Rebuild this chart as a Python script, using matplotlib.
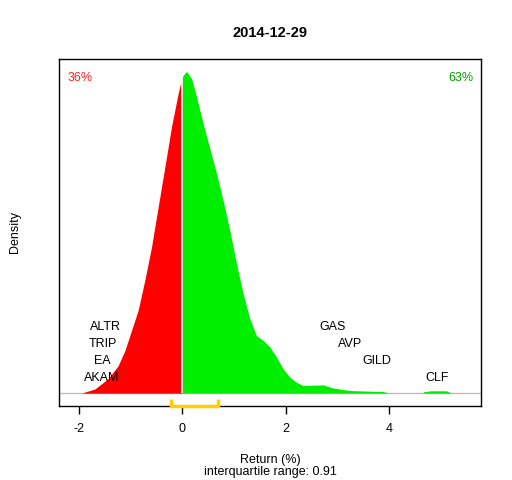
import numpy as np
import matplotlib.pyplot as plt

plt.rcParams['font.family'] = ['Liberation Sans', 'DejaVu Sans']

# density of daily returns
ret_x = [-1.944, -1.687, -1.43, -1.237, -1.108, -0.979, -0.851, -0.722, -0.593,
         -0.465, -0.336, -0.207, -0.079, -0.01,
         0.018, 0.083, 0.18, 0.276, 0.405, 0.533, 0.662, 0.79, 0.919, 1.048, 1.176,
         1.305, 1.434, 1.562, 1.691, 1.82, 1.948, 2.077, 2.206, 2.33, 2.46, 2.72,
         2.91, 3.24, 3.88, 4.00, 4.65, 4.66, 4.80, 5.10, 5.20]
dens = [0.0, 0.008, 0.028, 0.053, 0.082, 0.121, 0.160, 0.218, 0.282,
        0.359, 0.436, 0.514, 0.578, 0.608,
        0.613, 0.621, 0.607, 0.572, 0.520, 0.472, 0.424, 0.372, 0.314, 0.250, 0.192,
        0.144, 0.111, 0.102, 0.089, 0.070, 0.047, 0.031, 0.021, 0.015, 0.015, 0.016,
        0.010, 0.005, 0.003, 0.0, 0.0, 0.0025, 0.0045, 0.0045, 0.0]

iqr_lo, iqr_hi = -0.21, 0.70
pct_down, pct_up = '36%', '63%'

losers = ['ALTR', 'TRIP', 'EA', 'AKAM']
losers_x = [-1.49, -1.53, -1.55, -1.56]
winners = ['GAS', 'AVP', 'GILD', 'CLF']
winners_x = [2.91, 3.25, 3.76, 4.92]
label_y = [0.127, 0.094, 0.062, 0.030]

x = np.array(ret_x)
d = np.array(dens)
d0 = np.interp(0.0, x, d)

fig = plt.figure(figsize=(5.12, 4.8), dpi=100)
ax = fig.add_axes([0.1152, 0.1542, 0.8252, 0.7229])

ax.axhline(0, color='#BEBEBE', lw=1, zorder=1)
neg = x < 0
ax.fill_between(np.append(x[neg], 0), np.append(d[neg], d0), color='#FF0000', lw=0, zorder=2)
pos = x >= 0
ax.fill_between(np.insert(x[pos], 0, 0), np.insert(d[pos], 0, d0), color='#00EE00', lw=0, zorder=2)
ax.vlines(0, 0, d0, color='white', lw=1.2, zorder=3)

for name, lx, ly in zip(losers, losers_x, label_y):
    ax.text(lx, ly, name, ha='center', va='center', fontsize=9, zorder=4)
for name, lx, ly in zip(winners, winners_x, label_y):
    ax.text(lx, ly, name, ha='center', va='center', fontsize=9, zorder=4)

ax.text(0.02, 0.945, pct_down, transform=ax.transAxes, color='#FF2020',
        ha='left', va='center', fontsize=9)
ax.text(0.98, 0.945, pct_up, transform=ax.transAxes, color='#00A000',
        ha='right', va='center', fontsize=9)

ax.set_xlim(-2.38, 5.78)
ax.set_ylim(-0.0248, 0.6448)

# interquartile bracket on the bottom axis
yb = -0.0248
ax.plot([iqr_lo, iqr_lo, iqr_hi, iqr_hi], [-0.011, yb, yb, -0.011],
        color='#FFD000', lw=2.5, clip_on=False, zorder=5, solid_capstyle='butt')

ax.set_xticks([-2, 0, 2, 4])
ax.set_xticklabels(['-2', '0', '2', '4'], fontsize=9)
ax.set_yticks([])
ax.tick_params(axis='x', length=6, width=1, pad=6)
for s in ax.spines.values():
    s.set_linewidth(1)

ax.set_title('2014-12-29', fontsize=10.5, fontweight='bold', pad=16)
ax.set_ylabel('Density', fontsize=9, labelpad=27)
ax.set_xlabel('Return (%)\ninterquartile range: 0.91', fontsize=9,
              labelpad=14, linespacing=1.0)

fig.savefig('out.png', dpi=100, facecolor='white')
